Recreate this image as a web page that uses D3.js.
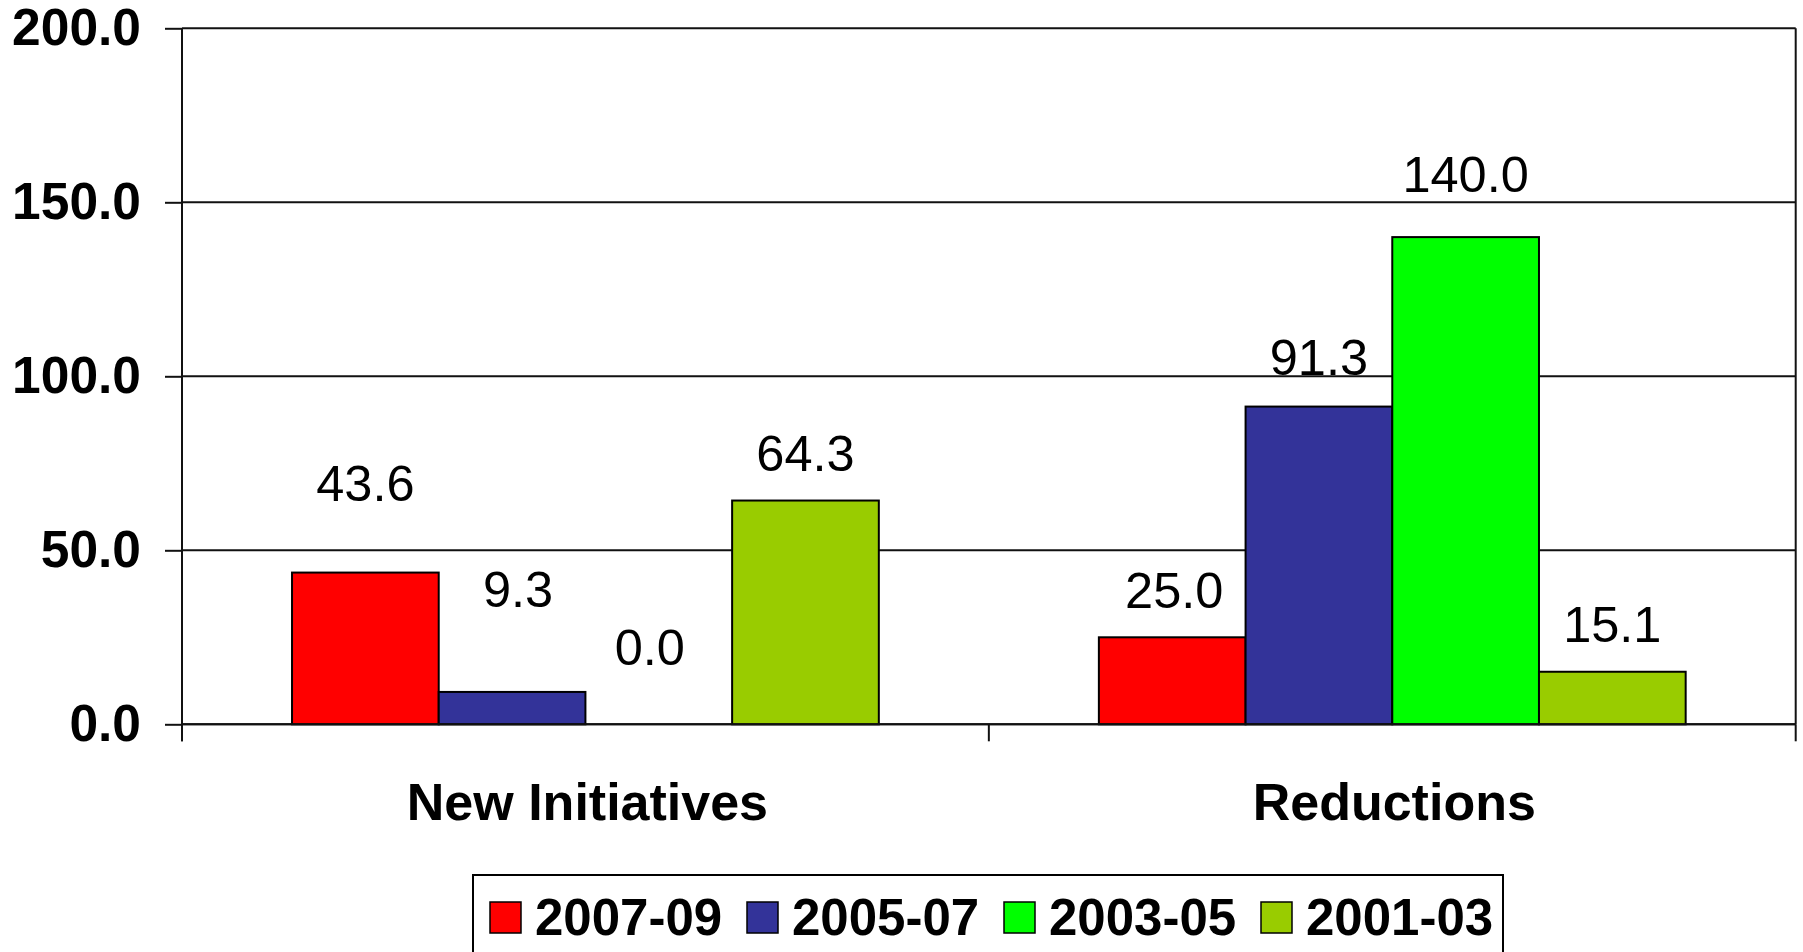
<!DOCTYPE html>
<html>
<head>
<meta charset="utf-8">
<script src="https://cdnjs.cloudflare.com/ajax/libs/d3/7.8.5/d3.min.js"></script>
<style>
  html, body { margin: 0; padding: 0; background: #fff; overflow: hidden; }
  svg { display: block; font-family: "Liberation Sans", Arial, sans-serif; }
</style>
</head>
<body>
<svg id="chart" width="1803" height="952"></svg>
<script>
// ---- data ----
const categories = ["New Initiatives", "Reductions"];
const seriesNames = ["2007-09", "2005-07", "2003-05", "2001-03"];
const values2007_09 = [43.6, 25.0];
const values2005_07 = [9.3, 91.3];
const values2003_05 = [0.0, 140.0];
const values2001_03 = [64.3, 15.1];
const yTickValues = [0, 50, 100, 150, 200];

// ---- layout / style (not data) ----
const seriesColors = ["#FF0000", "#333399", "#00FF00", "#99CC00"];
// label nudges (pixels) per category, per series, as placed in the original chart
const labelLift = [[72, 85, 59, 30], [29, 32, 45, 30]];
const labelShift = [[0, 6, -9, 0], [2, 0, 0, 0]];

(function () {
const seriesValues = [values2007_09, values2005_07, values2003_05, values2001_03];
const rows = categories.map((c, ci) => ({
  category: c,
  ci: ci,
  bars: seriesNames.map((s, si) => ({ series: s, si: si, value: seriesValues[si][ci] }))
}));

const plotL = 182, plotR = 1795.7, plotT = 28.3, plotB = 724.3;
const svg = d3.select("#chart");

const y = d3.scaleLinear().domain([0, 200]).range([plotB, plotT]);
const x0 = d3.scaleBand().domain(categories).range([plotL, plotR]).paddingInner(0).paddingOuter(0);
const x1 = d3.scaleBand().domain(seriesNames).range([0, x0.bandwidth()]).paddingInner(0).paddingOuter(0.75);
const color = d3.scaleOrdinal().domain(seriesNames).range(seriesColors);

// gridlines
svg.append("g").selectAll("line").data(yTickValues).join("line")
  .attr("x1", plotL).attr("x2", plotR)
  .attr("y1", d => y(d)).attr("y2", d => y(d))
  .attr("stroke", "#111").attr("stroke-width", 2);

// right plot border
svg.append("line").attr("x1", plotR).attr("x2", plotR).attr("y1", plotT).attr("y2", plotB)
  .attr("stroke", "#111").attr("stroke-width", 2);

// bars
const groups = svg.append("g").selectAll("g").data(rows).join("g")
  .attr("transform", d => `translate(${x0(d.category)},0)`);
groups.selectAll("rect").data(d => d.bars).join("rect")
  .attr("x", d => x1(d.series))
  .attr("y", d => y(d.value))
  .attr("width", x1.bandwidth())
  .attr("height", d => plotB - y(d.value))
  .attr("fill", d => color(d.series))
  .attr("stroke", "#000").attr("stroke-width", 2);

// value labels
groups.selectAll("text").data(d => d.bars.map(b => ({ ...b, ci: d.ci }))).join("text")
  .attr("x", d => x1(d.series) + x1.bandwidth() / 2 + labelShift[d.ci][d.si])
  .attr("y", d => y(d.value) - labelLift[d.ci][d.si])
  .attr("text-anchor", "middle")
  .attr("font-size", 50.5)
  .attr("fill", "#000")
  .text(d => d3.format(".1f")(d.value));

// y axis
const yAxis = d3.axisLeft(y).tickValues(yTickValues).tickFormat(d3.format(".1f"))
  .tickSize(17).tickPadding(24).tickSizeOuter(0);
const gy = svg.append("g").attr("transform", `translate(${plotL},0)`).call(yAxis);
gy.select(".domain").remove();
gy.selectAll(".tick line").attr("stroke", "#111").attr("stroke-width", 2);
gy.selectAll(".tick text").attr("font-size", 51.5).attr("font-weight", "bold")
  .attr("fill", "#000").attr("font-family", "Liberation Sans, Arial, sans-serif");
svg.append("line").attr("x1", plotL).attr("x2", plotL).attr("y1", plotT).attr("y2", plotB + 17)
  .attr("stroke", "#111").attr("stroke-width", 2);

// x axis baseline + category separators
svg.append("line").attr("x1", plotL).attr("x2", plotR).attr("y1", plotB).attr("y2", plotB)
  .attr("stroke", "#111").attr("stroke-width", 2);
const bounds = categories.map(c => x0(c)).concat([x0(categories[categories.length - 1]) + x0.bandwidth()]);
svg.append("g").selectAll("line").data(bounds).join("line")
  .attr("x1", d => d).attr("x2", d => d).attr("y1", plotB).attr("y2", plotB + 17)
  .attr("stroke", "#111").attr("stroke-width", 2);

// category labels
svg.append("g").selectAll("text").data(categories).join("text")
  .attr("x", d => x0(d) + x0.bandwidth() / 2 + 2)
  .attr("y", 820)
  .attr("text-anchor", "middle")
  .attr("font-size", 52).attr("font-weight", "bold").attr("fill", "#000")
  .text(d => d);

// legend
const legend = svg.append("g");
legend.append("rect").attr("x", 473).attr("y", 875).attr("width", 1030).attr("height", 120)
  .attr("fill", "#fff").attr("stroke", "#000").attr("stroke-width", 2);
const items = legend.selectAll("g.item").data(seriesNames).join("g")
  .attr("class", "item")
  .attr("transform", (d, i) => `translate(${490 + i * 257},0)`);
items.append("rect").attr("x", 0).attr("y", 902).attr("width", 31).attr("height", 31)
  .attr("fill", d => color(d)).attr("stroke", "#000").attr("stroke-width", 1.5);
items.append("text").attr("x", 45).attr("y", 935)
  .attr("font-size", 51).attr("font-weight", "bold").attr("fill", "#000")
  .text(d => d);
})();
</script>
</body>
</html>
